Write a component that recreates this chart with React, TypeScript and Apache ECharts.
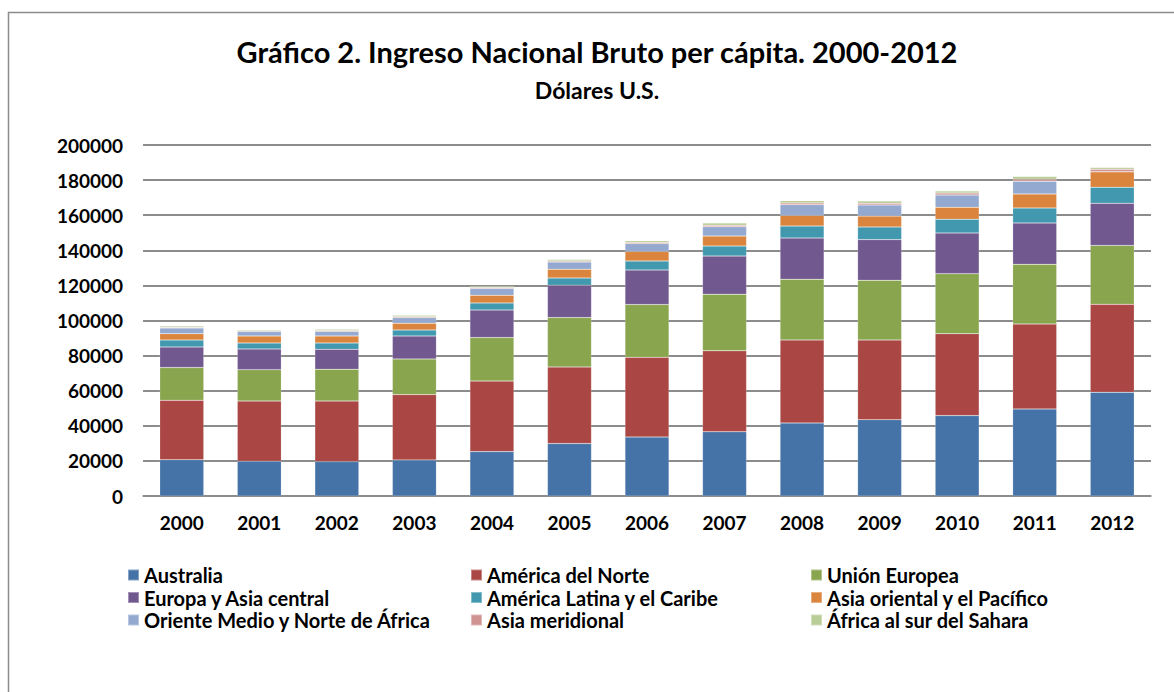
import React, { useEffect, useRef } from "react";
import * as echarts from "echarts";

const years = ["2000","2001","2002","2003","2004","2005","2006","2007","2008","2009","2010","2011","2012"];
const seriesNames = [
  "Australia",
  "América del Norte",
  "Unión Europea",
  "Europa y Asia central",
  "América Latina y el Caribe",
  "Asia oriental y el Pacífico",
  "Oriente Medio y Norte de África",
  "Asia meridional",
  "África al sur del Sahara",
];
const australia = [20700, 19800, 19600, 20500, 25300, 29900, 33600, 36600, 41600, 43500, 45800, 49600, 59100];
const americaNorte = [33800, 34300, 34500, 37300, 40200, 43600, 45400, 46100, 47300, 45400, 46700, 48400, 50100];
const unionEuropea = [18700, 17900, 18100, 20300, 24800, 28200, 30100, 32300, 34600, 34000, 34200, 34000, 33600];
const europaAsiaCentral = [11700, 11800, 11400, 13100, 15700, 18400, 19700, 21700, 23500, 23200, 23200, 23600, 24000];
const americaLatina = [4000, 3400, 3600, 3400, 4000, 4100, 5100, 5700, 6800, 7200, 7800, 8500, 9100];
const asiaOriental = [3600, 4000, 4000, 3800, 4400, 5000, 5400, 5700, 6100, 6200, 6800, 8000, 8800];
const orienteMedio = [3200, 2500, 2600, 3200, 3800, 4100, 4500, 5300, 6100, 6300, 7000, 7200, 0];
const asiaMeridional = [500, 500, 500, 600, 600, 600, 700, 900, 1000, 1000, 1100, 1200, 1500];
const africaSubsahariana = [700, 600, 700, 800, 700, 800, 1000, 1200, 1300, 1300, 1200, 1500, 1000];
const yTicks = [0, 20000, 40000, 60000, 80000, 100000, 120000, 140000, 160000, 180000, 200000];

const colors = ["#4572A7", "#AA4643", "#89A54E", "#71588F", "#4198AF", "#DB843D", "#93A9CF", "#D19392", "#B9CD96"];
const allData = [australia, americaNorte, unionEuropea, europaAsiaCentral, americaLatina, asiaOriental, orienteMedio, asiaMeridional, africaSubsahariana];

const FONT = "Lato, 'Liberation Sans', sans-serif";

export default function App() {
  const ref = useRef<HTMLDivElement>(null);
  useEffect(() => {
    if (!ref.current) return;
    const chart = echarts.init(ref.current, null, { renderer: "svg" });
    const legendCol = (idx: number[], left: number) => ({
      orient: "vertical",
      left,
      top: 560,
      itemWidth: 11,
      itemHeight: 11,
      itemGap: 2.5,
      icon: "rect",
      textStyle: { fontFamily: FONT, fontWeight: "bold", fontSize: 20, lineHeight: 18, color: "#000" },
      data: idx.map((i) => seriesNames[i]),
    });
    chart.setOption({
      animation: false,
      backgroundColor: "#fff",
      graphic: [
        {
          type: "rect",
          shape: { x: 8.5, y: 12.5, width: 1200, height: 720 },
          style: { fill: "none", stroke: "#8c8c8c", lineWidth: 1.5 },
          silent: true,
        },
      ],
      title: [
        {
          text: "Gráfico 2. Ingreso Nacional Bruto per cápita. 2000-2012",
          left: 597,
          textAlign: "center",
          top: 37,
          padding: 0,
          textStyle: { fontFamily: FONT, fontWeight: "bold", fontSize: 29, color: "#000" },
        },
        {
          text: "Dólares U.S.",
          left: 597,
          textAlign: "center",
          top: 78,
          padding: 0,
          textStyle: { fontFamily: FONT, fontWeight: "bold", fontSize: 23, color: "#000" },
        },
      ],
      legend: [legendCol([0, 3, 6], 122), legendCol([1, 4, 7], 465), legendCol([2, 5, 8], 805)],
      grid: { left: 143, right: 23, top: 145, bottom: 196, containLabel: false },
      xAxis: {
        type: "category",
        data: years,
        axisLine: { lineStyle: { color: "#8c8c8c", width: 1.5 } },
        axisTick: { show: false },
        axisLabel: { fontFamily: FONT, fontWeight: "bold", fontSize: 19, color: "#000", margin: 17 },
      },
      yAxis: {
        type: "value",
        min: yTicks[0],
        max: yTicks[yTicks.length - 1],
        interval: yTicks[1] - yTicks[0],
        axisLine: { show: false },
        axisTick: { show: false },
        splitLine: { lineStyle: { color: "#8c8c8c", width: 2 } },
        axisLabel: {
          fontFamily: FONT,
          fontWeight: "bold",
          fontSize: 19,
          color: "#000",
          margin: 20,
          formatter: (v: number) => String(v),
        },
      },
      series: seriesNames.map((name, i) => ({
        name,
        type: "bar",
        stack: "total",
        barWidth: 44,
        data: allData[i],
        itemStyle: { color: colors[i], borderColor: "rgba(255,255,255,0.35)", borderWidth: 0.5 },
      })),
    });
    return () => chart.dispose();
  }, []);
  return <div ref={ref} style={{ width: 1174, height: 692, position: "absolute", left: 0, top: 0 }} />;
}
